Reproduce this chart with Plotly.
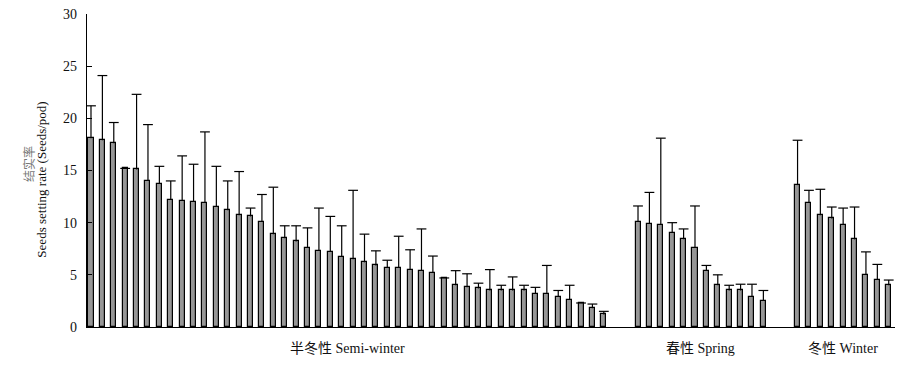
import plotly.graph_objects as go

# ---- data ----
group_labels = ["半冬性 Semi-winter", "春性 Spring", "冬性 Winter"]

semi_vals = [18.1, 17.9, 17.6, 15.2, 15.1, 14.0, 13.7, 12.2, 12.1, 12.0, 11.9, 11.5,
             11.2, 10.7, 10.6, 10.1, 8.9, 8.5, 8.2, 7.6, 7.3, 7.2, 6.7, 6.5, 6.2, 5.9,
             5.7, 5.7, 5.5, 5.4, 5.2, 4.7, 4.0, 3.8, 3.7, 3.5, 3.5, 3.5, 3.5, 3.2, 3.2,
             2.9, 2.6, 2.3, 1.8, 1.2]
semi_err = [3.1, 6.2, 2.0, 0.0, 7.2, 5.4, 1.7, 1.8, 4.3, 3.6, 6.8, 3.9,
            2.8, 4.2, 0.8, 2.6, 4.5, 1.2, 1.5, 1.9, 4.1, 3.4, 3.0, 6.6, 2.7, 1.4,
            0.7, 3.0, 1.9, 4.0, 1.6, 0.0, 1.4, 1.3, 0.5, 2.0, 0.5, 1.3, 0.5, 0.6, 2.7,
            0.6, 1.4, 0.0, 0.4, 0.3]

spring_vals = [10.1, 9.9, 9.8, 9.0, 8.4, 7.6, 5.4, 4.0, 3.5, 3.5, 2.9, 2.5]
spring_err = [1.5, 3.0, 8.3, 1.0, 1.0, 4.0, 0.5, 1.0, 0.5, 0.6, 1.2, 1.0]

winter_vals = [13.6, 11.9, 10.7, 10.4, 9.8, 8.4, 5.0, 4.5, 4.0]
winter_err = [4.3, 1.2, 2.5, 1.1, 1.6, 3.1, 2.2, 1.5, 0.5]

y_ticks = [0, 5, 10, 15, 20, 25, 30]

# ---- positions: groups laid out side by side with a gap of empty slots ----
GAP = 2
series = [(semi_vals, semi_err), (spring_vals, spring_err), (winter_vals, winter_err)]
xs, vals, errs, centers = [], [], [], []
start = 0
for v, e in series:
    pos = list(range(start, start + len(v)))
    xs += pos
    vals += v
    errs += e
    centers.append((pos[0] + pos[-1]) / 2)
    start = pos[-1] + 1 + GAP

tops = [v + e for v, e in zip(vals, errs)]

FONT = "Liberation Serif, Times New Roman, Noto Sans CJK SC, serif"

fig = go.Figure()
fig.add_trace(go.Bar(
    x=xs, y=vals, width=0.44,
    marker=dict(color="#969696", line=dict(color="black", width=1.2)),
    showlegend=False, hoverinfo="skip",
))
# upward-only error bars: whisker via error_y (no caps), cap via line marker
fig.add_trace(go.Scatter(
    x=xs, y=tops, mode="markers",
    marker=dict(symbol="line-ew", size=7, color="black",
                line=dict(color="black", width=1.2)),
    error_y=dict(type="data", symmetric=False, array=[0] * len(xs),
                 arrayminus=errs, width=0, thickness=1.2, color="black"),
    cliponaxis=False, showlegend=False, hoverinfo="skip",
))

annotations = []
for c, lab in zip(centers, group_labels):
    annotations.append(dict(x=c, y=-0.07, xref="x", yref="paper", text=lab,
                            showarrow=False, xanchor="center", yanchor="middle",
                            font=dict(family=FONT, size=14, color="#111")))
annotations.append(dict(x=-0.072, y=0.52, xref="paper", yref="paper",
                        text="结实率",
                        textangle=-90, showarrow=False, xanchor="center", yanchor="middle",
                        font=dict(family=FONT, size=12, color="#777")))
annotations.append(dict(x=-0.056, y=0.47, xref="paper", yref="paper",
                        text="Seeds setting rate (Seeds/pod)",
                        textangle=-90, showarrow=False, xanchor="center", yanchor="middle",
                        font=dict(family=FONT, size=13, color="#111")))

# page body has an 8px default margin, so the figure margins compensate
fig.update_layout(
    width=913, height=369,
    margin=dict(l=79, r=26, t=6, b=50, autoexpand=False),
    paper_bgcolor="white", plot_bgcolor="white",
    font=dict(family=FONT, size=14, color="#111"),
    bargap=0,
    annotations=annotations,
    xaxis=dict(range=[-0.35, start - GAP - 1 + 0.55], showline=True, linecolor="black",
               linewidth=1.2, showticklabels=False, ticks="", showgrid=False,
               zeroline=False, automargin=False),
    yaxis=dict(range=[0, 30], tickvals=y_ticks, ticks="inside", ticklen=5,
               tickwidth=1, tickcolor="black", showline=True, linecolor="black",
               linewidth=1.2, showgrid=False, zeroline=False, automargin=False,
               tickfont=dict(family=FONT, size=14, color="#111"),
               ticklabelstandoff=6, ticklabeloverflow="allow"),
)

fig.write_html("out.html")
